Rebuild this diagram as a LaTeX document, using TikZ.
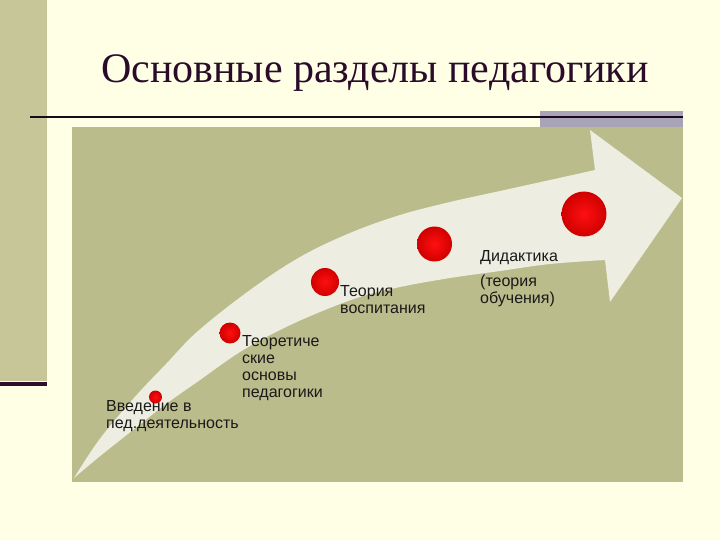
\documentclass[tikz,border=0pt]{standalone}
\usepackage{fontspec}
\setmainfont{Liberation Serif}
\setsansfont{Liberation Sans}
\definecolor{bgc}{HTML}{FFFFE6}
\definecolor{sidebar}{HTML}{C6C698}
\definecolor{panelc}{HTML}{BBBC8B}
\definecolor{arrowc}{HTML}{EDEDE2}
\definecolor{grayblk}{HTML}{A9A3B8}
\definecolor{titlec}{HTML}{2A0C2A}
\definecolor{darkline}{HTML}{2D0F2D}
\definecolor{dotin}{HTML}{FF1010}
\definecolor{dotout}{HTML}{D00000}
\begin{document}
\begin{tikzpicture}[x=1pt,y=-1pt,
  titlestyle/.style={font=\fontsize{42}{48}\selectfont, text=titlec, inner sep=0pt},
  lbl/.style={font=\sffamily\fontsize{16}{16.7}\selectfont, text=black!90, align=left, inner sep=0pt, anchor=base west},
  dot/.style={circle, inner sep=0pt, minimum size=#1, shading=radial, inner color=dotin, outer color=dotout}]
\fill[bgc] (0,0) rectangle (720,540);
\useasboundingbox (0,0) rectangle (720,540);
\fill[sidebar] (0,0) rectangle (47,381);
\fill[darkline] (0,382) rectangle (47,386);
\fill[panelc] (72,127) rectangle (683,482);
\fill[grayblk] (540,111) rectangle (683,127);
\draw[line width=2pt, darkline!60!black] (30,117) -- (683,117);
\node[titlestyle, anchor=base] (title) at (375,83) {Основные разделы педагогики};
% arrow
\fill[arrowc] plot[smooth, tension=0.6] coordinates {(74,478) (99,440) (133,399) (166,364) (198,331) (250,290) (300,257) (350,233) (400,215) (450,202) (500,191) (550,180) (595,170)}
  -- (590,130) -- (682,198) -- (610,302)
  -- plot[smooth, tension=0.6] coordinates {(605,260) (550,264) (500,271) (450,278) (400,287) (360,297) (320,312) (280,330) (240,352) (200,380) (166,404) (133,430) (99,457) (74,478)} -- cycle;
% dots
\node[dot=13pt] (d1) at (155.5,397) {};
\node[dot=21pt] (d2) at (230,333) {};
\node[dot=28pt] (d3) at (325,282) {};
\node[dot=35pt] (d4) at (434.5,244) {};
\node[dot=45pt] (d5) at (584,214) {};
% labels (anchored at the baseline of the last line)
\node[lbl] (t1) at (106,428) {Введение в\\пед.деятельность};
\node[lbl] (t2) at (242,397) {Теоретиче\\ские\\основы\\педагогики};
\node[lbl] (t3) at (340,313.5) {Теория\\воспитания};
\node[lbl] (t4) at (480,303.5) {Дидактика\\[8.3pt](теория\\обучения)};
\end{tikzpicture}
\end{document}
